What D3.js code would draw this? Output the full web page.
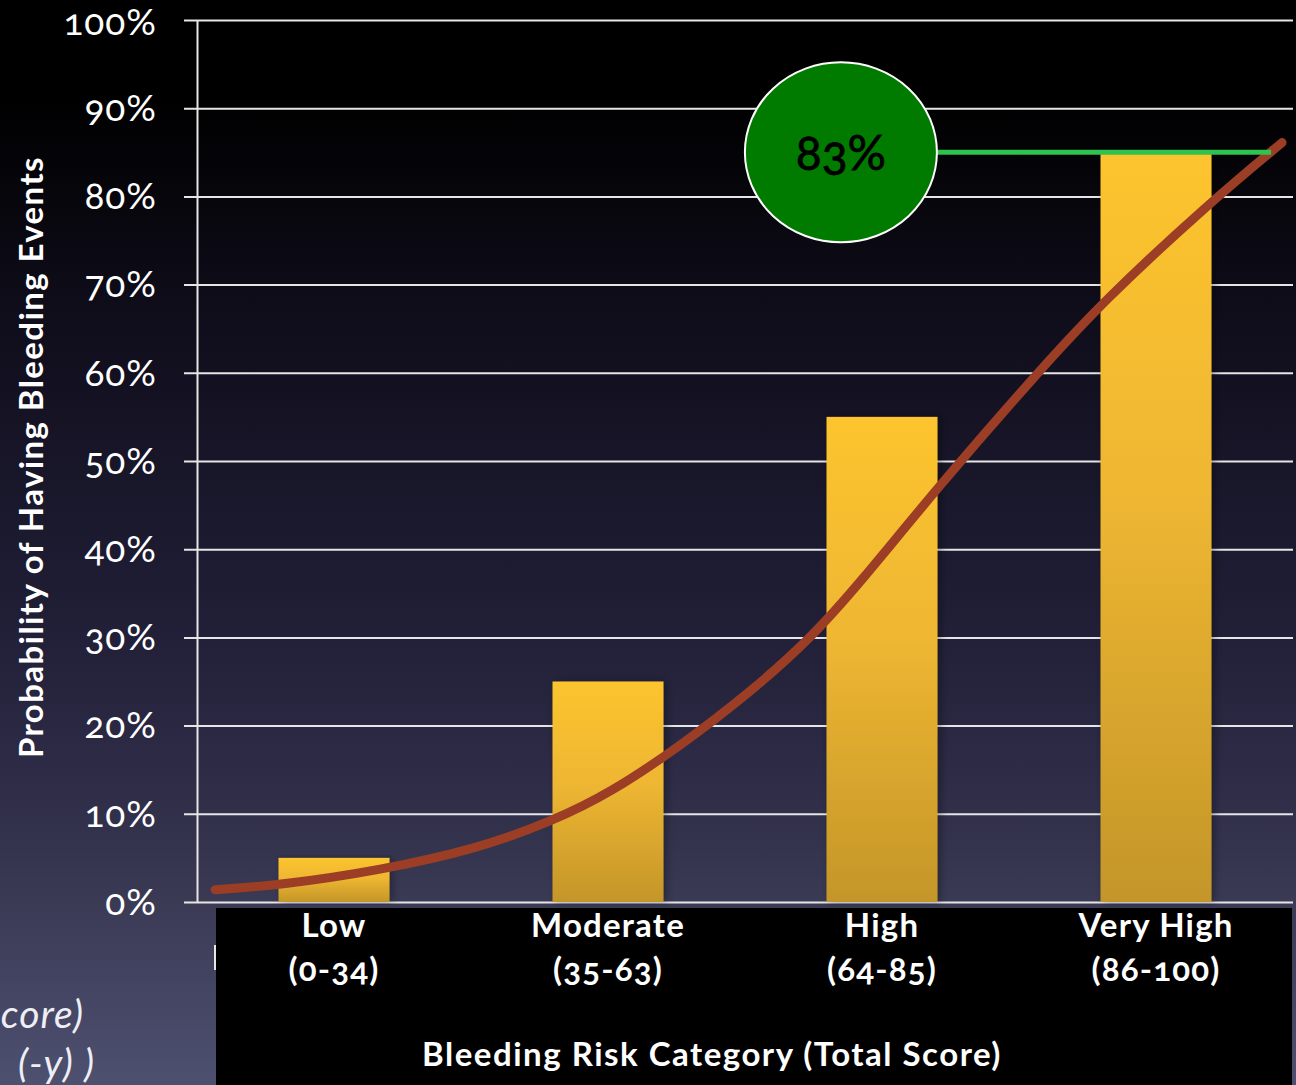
<!DOCTYPE html>
<html><head><meta charset="utf-8">
<script src="https://cdn.jsdelivr.net/npm/d3@7"></script>
<style>
html,body{margin:0;padding:0;background:#000;}
svg{display:block;}
text{font-family:Lato,"Open Sans",sans-serif;font-variant-numeric:oldstyle-nums;font-feature-settings:"onum" 1;}
</style></head>
<body>
<svg id="chart" width="1296" height="1085"></svg>
<script>
// ---- data ----
const categories = ["Low", "Moderate", "High", "Very High"];
const ranges = ["(0-34)", "(35-63)", "(64-85)", "(86-100)"];
const barValues = [5, 25, 55, 85];
const yTicks = [0, 10, 20, 30, 40, 50, 60, 70, 80, 90, 100];
// logistic curve, x in category units (0..4 across the plot), y in %
const curveX = [0.066, 0.30, 0.67, 1.03, 1.30, 1.51, 1.76, 2.02, 2.24, 2.42, 2.70, 3.07, 3.31, 3.70, 3.96];
const curveY = [1.4, 1.9, 3.6, 6.1, 9.2, 12.4, 17.6, 23.8, 29.9, 36.2, 46.9, 60.1, 68.2, 79.4, 86.1];
const highlightLabel = "83%";
const highlightLevel = 85;
const highlightCenterX = 2.35;
const highlightLineEnd = 3.92;
const yTitle = "Probability of Having Bleeding Events";
const xTitle = "Bleeding Risk Category (Total Score)";
const sideFragments = ["core)", "(-y) )"];

// ---- layout ----
const svg = d3.select("#chart");
const W = 1296, H = 1085;
const mLeft = 197, mRight = 1293, mTop = 20, mBottom = 902;

const defs = svg.append("defs");
const bg = defs.append("linearGradient").attr("id","bg").attr("x1",0).attr("y1",0).attr("x2",0).attr("y2",1);
[[0,"#000000"],[0.09,"#000000"],[0.3,"#100e1c"],[0.55,"#1f1d34"],[0.72,"#2e2c47"],[0.83,"#3a3a55"],[1,"#4e5070"]]
  .forEach(([o,c])=>bg.append("stop").attr("offset",o).attr("stop-color",c));
const bar = defs.append("linearGradient").attr("id","barg").attr("x1",0).attr("y1",0).attr("x2",0).attr("y2",1);
[[0,"#fcc42e"],[0.45,"#efb731"],[1,"#c4962a"]]
  .forEach(([o,c])=>bar.append("stop").attr("offset",o).attr("stop-color",c));
const sh = defs.append("filter").attr("id","shadow").attr("x","-20%").attr("y","-5%").attr("width","140%").attr("height","110%");
sh.append("feDropShadow").attr("dx",3).attr("dy",0).attr("stdDeviation",4).attr("flood-color","#000").attr("flood-opacity",0.35);

svg.append("rect").attr("width",W).attr("height",H).attr("fill","url(#bg)");

// scales
const x = d3.scaleBand().domain(categories).range([mLeft,mRight]).paddingInner(0.595).paddingOuter(0.2975);
const xu = d3.scaleLinear().domain([0,4]).range([mLeft,mRight]);
const y = d3.scaleLinear().domain([0,100]).range([mBottom,mTop]);

// y axis with gridlines
const yAxis = svg.append("g").attr("transform",`translate(${mLeft},0)`)
  .call(d3.axisLeft(y).tickValues(yTicks).tickFormat(d=>d+"%").tickSizeInner(-(mRight-mLeft)).tickSizeOuter(0).tickPadding(40));
yAxis.select(".domain").attr("stroke","#e6e6e6").attr("stroke-width",2);
yAxis.selectAll(".tick line").attr("x1",-13).attr("stroke","#e6e6e6").attr("stroke-width",2);
yAxis.selectAll(".tick text").attr("fill","#ffffff").attr("font-size",37).attr("font-weight",400)
  .attr("letter-spacing",1).attr("dy",d=>d===100?"0.4em":"0.33em");

// bars
svg.append("g").selectAll("rect").data(barValues).join("rect")
  .attr("x",(d,i)=>x(categories[i])).attr("width",x.bandwidth())
  .attr("y",d=>y(d)).attr("height",d=>y(0)-y(d))
  .attr("fill","url(#barg)").attr("filter","url(#shadow)");

// curve
const line = d3.line().x(d=>xu(d[0])).y(d=>y(d[1])).curve(d3.curveBasis);
svg.append("path").datum(curveX.map((v,i)=>[v,curveY[i]]))
  .attr("d",line).attr("fill","none").attr("stroke","#9b3e25").attr("stroke-width",9).attr("stroke-linecap","round");

// highlight
const cx = xu(highlightCenterX), cy = y(highlightLevel), rx = 96, ry = 90;
svg.append("line").attr("x1",cx+rx).attr("x2",xu(highlightLineEnd)).attr("y1",cy).attr("y2",cy)
  .attr("stroke","#2fc24c").attr("stroke-width",5);
svg.append("ellipse").attr("cx",cx).attr("cy",cy).attr("rx",rx).attr("ry",ry)
  .attr("fill","#007b00").attr("stroke","#ffffff").attr("stroke-width",2);
svg.append("text").attr("x",cx).attr("y",cy+18).attr("text-anchor","middle")
  .attr("font-size",48).attr("fill","#000").attr("stroke","#000").attr("stroke-width",0.8).text(highlightLabel);

// x label box
svg.append("rect").attr("x",216).attr("y",908).attr("width",1076).attr("height",H-908).attr("fill","#000");
svg.append("rect").attr("x",214).attr("y",945).attr("width",2).attr("height",25).attr("fill","#e6e6e6");

const xAxis = svg.append("g").attr("transform",`translate(0,${mBottom})`)
  .call(d3.axisBottom(x).tickSize(0).tickPadding(0));
xAxis.select(".domain").remove();
xAxis.selectAll(".tick text").each(function(d,i){
  const t = d3.select(this).text(null).attr("fill","#fff").attr("font-size",33).attr("font-weight",700)
    .attr("letter-spacing",1.2).attr("y",0).attr("dy",null);
  t.append("tspan").attr("x",0).attr("y",35).text(d);
  t.append("tspan").attr("x",0).attr("y",79).text(ranges[i]);
});

// titles
svg.append("text").attr("x",712).attr("y",1066).attr("text-anchor","middle")
  .attr("font-size",33).attr("font-weight",700).attr("letter-spacing",1.5).attr("fill","#fff").text(xTitle);
svg.append("text").attr("transform","translate(43,457) rotate(-90)").attr("text-anchor","middle")
  .attr("font-size",33).attr("font-weight",700).attr("letter-spacing",1.4).attr("fill","#fff").text(yTitle);

// partially visible side text
svg.append("text").attr("x",84).attr("y",1028).attr("text-anchor","end").attr("font-style","italic")
  .attr("font-size",39).attr("letter-spacing",1).attr("fill","#eeeef4").text(sideFragments[0]);
svg.append("text").attr("x",95).attr("y",1077).attr("text-anchor","end").attr("font-style","italic")
  .attr("font-size",39).attr("letter-spacing",1).attr("fill","#eeeef4").text(sideFragments[1]);
</script>
</body></html>
